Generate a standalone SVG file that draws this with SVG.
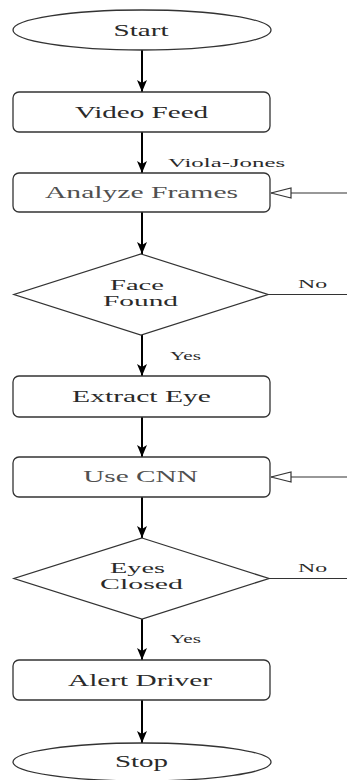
<svg xmlns="http://www.w3.org/2000/svg" width="347" height="780" viewBox="0 0 347 780">
<defs>
<marker id="arr" markerWidth="12" markerHeight="10" refX="12" refY="5" orient="auto" markerUnits="userSpaceOnUse">
<path d="M0,0 L12,5 L0,10 L3,5 Z" fill="#000"/>
</marker>
<marker id="open" markerWidth="22" markerHeight="12" refX="21" refY="6" orient="auto" markerUnits="userSpaceOnUse">
<path d="M1,1 L21,6 L1,11 Z" fill="#fff" stroke="#333" stroke-width="1.2"/>
</marker>
</defs>
<style>
.shape{fill:#fff;stroke:#333;stroke-width:1.3}
.t{font-family:"Liberation Serif","Times New Roman",serif;font-size:16px;fill:#2a2a2a;text-anchor:middle}
.d{font-family:"Liberation Serif","Times New Roman",serif;font-size:14px;fill:#2a2a2a;text-anchor:middle}
.g{fill:#505050}
.lbl{font-family:"Liberation Serif","Times New Roman",serif;font-size:12px;fill:#2a2a2a}
.flow{stroke:#000;stroke-width:2;fill:none;marker-end:url(#arr)}
.back{stroke:#333;stroke-width:1.2;fill:none;marker-end:url(#open)}
.plain{stroke:#333;stroke-width:1.2;fill:none}
</style>
<rect width="347" height="780" fill="#fff"/>
<g id="connectors">
<line class="flow" x1="142" y1="50" x2="142" y2="92"/>
<line class="flow" x1="142" y1="132" x2="142" y2="173"/>
<line class="flow" x1="142" y1="212" x2="142" y2="254"/>
<line class="flow" x1="142" y1="335" x2="142" y2="376"/>
<line class="flow" x1="142" y1="417" x2="142" y2="457"/>
<line class="flow" x1="142" y1="497" x2="142" y2="538"/>
<line class="flow" x1="142" y1="619" x2="142" y2="660"/>
<line class="flow" x1="142" y1="700" x2="142" y2="743"/>
<line class="plain" x1="268" y1="294.5" x2="347" y2="294.5"/>
<line class="plain" x1="269" y1="578.5" x2="347" y2="578.5"/>
<line class="back" x1="347" y1="193" x2="271" y2="193"/>
<line class="back" x1="347" y1="477" x2="271" y2="477"/>
<text class="lbl" transform="translate(168,167) scale(2.07,1)">Viola-Jones</text>
<text class="lbl" transform="translate(298,288) scale(1.98,1)">No</text>
<text class="lbl" transform="translate(170,360) scale(1.77,1)">Yes</text>
<text class="lbl" transform="translate(298,572) scale(1.98,1)">No</text>
<text class="lbl" transform="translate(170,643) scale(1.77,1)">Yes</text>
</g>
<g id="start">
<ellipse class="shape" cx="142" cy="30" rx="129" ry="20"/>
<text class="t" transform="translate(141,35.5) scale(1.82,1)">Start</text>
</g>
<g id="video-feed">
<rect class="shape" x="13" y="92" width="257" height="40" rx="6"/>
<text class="t" transform="translate(141.5,117.5) scale(1.82,1)">Video Feed</text>
</g>
<g id="analyze-frames">
<rect class="shape" x="13" y="173" width="257" height="39" rx="6"/>
<text class="t g" transform="translate(141.5,198) scale(1.85,1)">Analyze Frames</text>
</g>
<g id="face-found">
<polygon class="shape" points="141,254 268,294.5 141,335 14,294.5"/>
<text class="d" transform="translate(137,290) scale(2.04,1)">Face</text>
<text class="d" transform="translate(140.5,305.8) scale(2.1,1)">Found</text>
</g>
<g id="extract-eye">
<rect class="shape" x="13" y="376" width="257" height="41" rx="6"/>
<text class="t" transform="translate(141.5,401.5) scale(1.85,1)">Extract Eye</text>
</g>
<g id="use-cnn">
<rect class="shape" x="13" y="457" width="257" height="40" rx="6"/>
<text class="t g" transform="translate(140.5,482) scale(1.83,1)">Use CNN</text>
</g>
<g id="eyes-closed">
<polygon class="shape" points="142,538 269,578.5 142,619 14,578.5"/>
<text class="d" transform="translate(137.5,573) scale(2.02,1)">Eyes</text>
<text class="d" transform="translate(141.5,588.8) scale(2.13,1)">Closed</text>
</g>
<g id="alert-driver">
<rect class="shape" x="13" y="660" width="257" height="40" rx="6"/>
<text class="t" transform="translate(140,686) scale(1.83,1)">Alert Driver</text>
</g>
<g id="stop">
<ellipse class="shape" cx="142" cy="762" rx="129" ry="19"/>
<text class="t" transform="translate(141.5,767) scale(1.81,1)">Stop</text>
</g>
</svg>
